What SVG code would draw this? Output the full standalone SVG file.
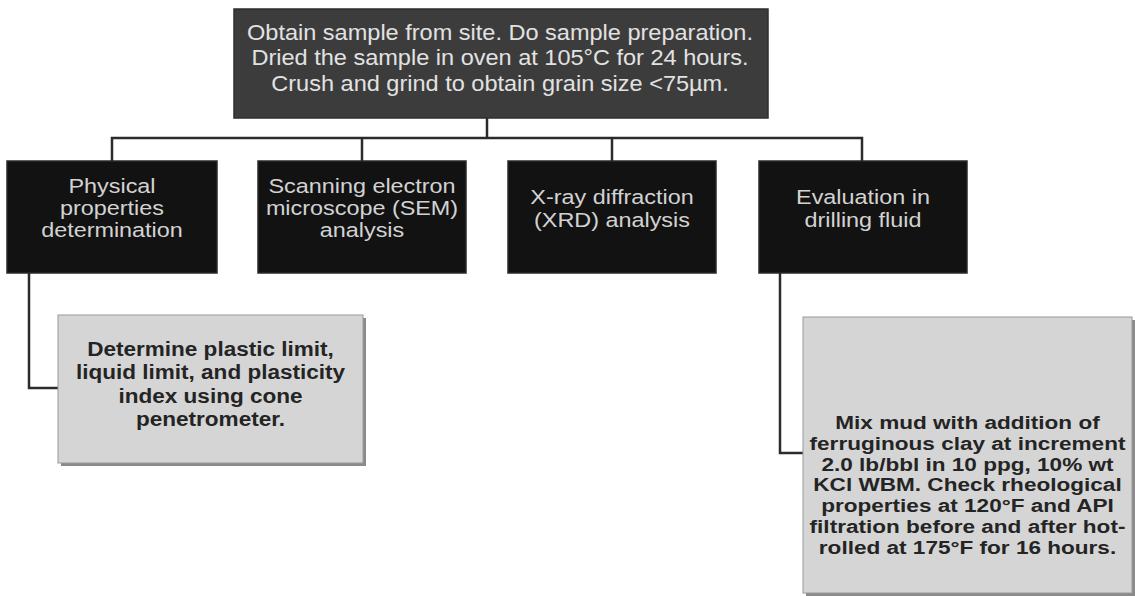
<svg xmlns="http://www.w3.org/2000/svg" width="1135" height="596" viewBox="0 0 1135 596">
<defs>
<style>
.top{fill:#3c3c3c;stroke:#2e2e2e;stroke-width:1.5}
.dark{fill:#121212;stroke:#2a2a2a;stroke-width:1.5}
.light{fill:#d5d5d5;stroke:#9a9a9a;stroke-width:1}
.shadow{fill:#8a8a8a}
.tw{font-family:"Liberation Sans",Arial,sans-serif;font-size:22px;fill:#e2e2e2;text-anchor:middle}
.tc{font-family:"Liberation Sans",Arial,sans-serif;font-size:19.5px;fill:#d2d2d2;text-anchor:middle}
.tl{font-family:"Liberation Sans",Arial,sans-serif;font-size:20.5px;font-weight:bold;fill:#242424;text-anchor:middle}
.tr{font-family:"Liberation Sans",Arial,sans-serif;font-size:18.5px;font-weight:bold;fill:#242424;text-anchor:middle}
.conn{fill:none;stroke:#2b2b2b;stroke-width:2.5}
</style>
</defs>
<rect width="1135" height="596" fill="#ffffff"/>
<g id="connectors">
<path class="conn" d="M487,118 V138"/>
<path class="conn" d="M112,161 V138 H862 V161"/>
<path class="conn" d="M362,138 V161"/>
<path class="conn" d="M612,138 V161"/>
<path class="conn" d="M29,273 V388 H58"/>
<path class="conn" d="M780,273 V453 H803"/>
</g>
<g id="node-top">
<rect class="top" x="234" y="9" width="534" height="109"/>
<g transform="translate(500,0) scale(1.07,1)">
<text class="tw" x="0" y="40">Obtain sample from site. Do sample preparation.</text>
<text class="tw" x="0" y="65.5">Dried the sample in oven at 105°C for 24 hours.</text>
<text class="tw" x="0" y="91">Crush and grind to obtain grain size &lt;75µm.</text>
</g>
</g>
<g id="node-physical">
<rect class="dark" x="7" y="161" width="210" height="112"/>
<g transform="translate(112,0) scale(1.2,1)">
<text class="tc" x="0" y="193">Physical</text>
<text class="tc" x="0" y="215">properties</text>
<text class="tc" x="0" y="237">determination</text>
</g>
</g>
<g id="node-sem">
<rect class="dark" x="258" y="161" width="208" height="112"/>
<g transform="translate(362,0) scale(1.2,1)">
<text class="tc" x="0" y="193">Scanning electron</text>
<text class="tc" x="0" y="215">microscope (SEM)</text>
<text class="tc" x="0" y="237">analysis</text>
</g>
</g>
<g id="node-xrd">
<rect class="dark" x="508" y="161" width="208" height="112"/>
<g transform="translate(612,0) scale(1.2,1)">
<text class="tc" x="0" y="204">X-ray diffraction</text>
<text class="tc" x="0" y="227">(XRD) analysis</text>
</g>
</g>
<g id="node-eval">
<rect class="dark" x="759" y="161" width="208" height="112"/>
<g transform="translate(863,0) scale(1.2,1)">
<text class="tc" x="0" y="204">Evaluation in</text>
<text class="tc" x="0" y="227">drilling fluid</text>
</g>
</g>
<g id="node-plastic">
<rect class="shadow" x="61" y="318" width="305" height="148"/>
<rect class="light" x="58" y="315" width="305" height="148"/>
<g transform="translate(210.5,0) scale(1.1,1)">
<text class="tl" x="0" y="356">Determine plastic limit,</text>
<text class="tl" x="0" y="379.5">liquid limit, and plasticity</text>
<text class="tl" x="0" y="403">index using cone</text>
<text class="tl" x="0" y="426.5">penetrometer.</text>
</g>
</g>
<g id="node-mix">
<rect class="shadow" x="806" y="320" width="329" height="276"/>
<rect class="light" x="803" y="317" width="329" height="276"/>
<g transform="translate(967.5,0) scale(1.22,1)">
<text class="tr" x="0" y="429">Mix mud with addition of</text>
<text class="tr" x="0" y="449.8">ferruginous clay at increment</text>
<text class="tr" x="0" y="470.6">2.0 lb/bbl in 10 ppg, 10% wt</text>
<text class="tr" x="0" y="491.4">KCl WBM. Check rheological</text>
<text class="tr" x="0" y="512.2">properties at 120°F and API</text>
<text class="tr" x="0" y="533">filtration before and after hot-</text>
<text class="tr" x="0" y="553.8">rolled at 175°F for 16 hours.</text>
</g>
</g>
</svg>
